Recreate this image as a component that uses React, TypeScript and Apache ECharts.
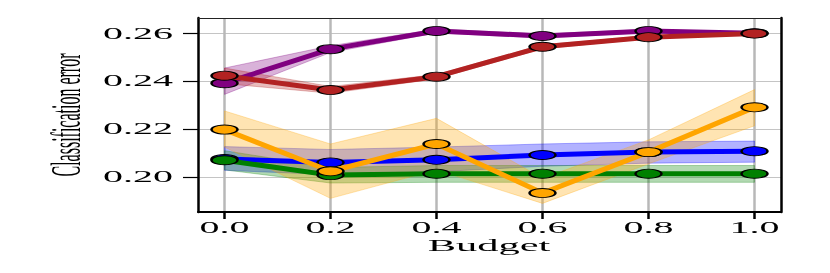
import React, { useEffect, useRef } from "react";
import * as echarts from "echarts";

const budgets = [0.0, 0.2, 0.4, 0.6, 0.8, 1.0];
const xTickLabels = ["0.0", "0.2", "0.4", "0.6", "0.8", "1.0"];
const yTicks = [0.2, 0.22, 0.24, 0.26];
const yTickLabels = ["0.20", "0.22", "0.24", "0.26"];
const xAxisTitle = "Budget";
const yAxisTitle = "Classification error";

const purpleMean = [0.2392, 0.2534, 0.261, 0.2589, 0.261, 0.26];
const purpleUpper = [0.2455, 0.2548, 0.2618, 0.2598, 0.2616, 0.2605];
const purpleLower = [0.2345, 0.252, 0.2602, 0.258, 0.2604, 0.2595];

const redMean = [0.2423, 0.2363, 0.2419, 0.2544, 0.2584, 0.2599];
const redUpper = [0.2455, 0.2378, 0.2428, 0.2552, 0.259, 0.2603];
const redLower = [0.239, 0.235, 0.241, 0.2536, 0.2578, 0.2595];

const blueMean = [0.2075, 0.2061, 0.2072, 0.2092, 0.2104, 0.2108];
const blueUpper = [0.2127, 0.2115, 0.2125, 0.2138, 0.2147, 0.215];
const blueLower = [0.2028, 0.201, 0.2022, 0.2045, 0.2058, 0.2062];

const greenMean = [0.207, 0.2008, 0.2014, 0.2014, 0.2014, 0.2014];
const greenUpper = [0.211, 0.204, 0.2048, 0.2048, 0.2048, 0.2048];
const greenLower = [0.203, 0.1975, 0.1978, 0.1978, 0.1978, 0.1978];

const orangeMean = [0.2198, 0.2024, 0.2138, 0.1933, 0.2104, 0.2291];
const orangeUpper = [0.2276, 0.2138, 0.2245, 0.1995, 0.2155, 0.2365];
const orangeLower = [0.2125, 0.1911, 0.203, 0.189, 0.2055, 0.2214];

const groups = [
  { name: "purple", mean: purpleMean, upper: purpleUpper, lower: purpleLower, color: "#800080", band: "rgba(128,0,128,0.3)" },
  { name: "red", mean: redMean, upper: redUpper, lower: redLower, color: "#b22222", band: "rgba(178,34,34,0.3)" },
  { name: "blue", mean: blueMean, upper: blueUpper, lower: blueLower, color: "#0000ff", band: "rgba(0,0,255,0.3)" },
  { name: "green", mean: greenMean, upper: greenUpper, lower: greenLower, color: "#008000", band: "rgba(0,128,0,0.3)" },
  { name: "orange", mean: orangeMean, upper: orangeUpper, lower: orangeLower, color: "#ffa500", band: "rgba(255,165,0,0.3)" },
];

const GRID = { left: 198, right: 49, top: 18, bottom: 61 };
const FONT = "'Liberation Serif', serif";
const STRETCH = 2.5;

export default function App() {
  const ref = useRef<HTMLDivElement>(null);
  useEffect(() => {
    if (!ref.current) return;
    const chart = echarts.init(ref.current, null, { renderer: "svg" });

    const bandSeries = groups.map((g) => ({
      type: "custom",
      name: g.name + "-band",
      silent: true,
      z: 1,
      data: budgets.map((b, i) => [b, g.lower[i], g.upper[i]]),
      encode: { x: 0, y: [1, 2] },
      renderItem: (params: any, api: any) => {
        if (params.dataIndex !== 0) return null;
        const top = budgets.map((b, i) => api.coord([b, g.upper[i]]));
        const bot = budgets.map((b, i) => api.coord([b, g.lower[i]])).reverse();
        return {
          type: "polygon",
          shape: { points: top.concat(bot) },
          style: { fill: g.band, stroke: g.band, lineWidth: 1 },
        };
      },
    }));

    const lineSeries = groups.map((g, k) => ({
      type: "line",
      name: g.name,
      z: 3 + k,
      data: budgets.map((b, i) => [b, g.mean[i]]),
      symbol: "circle",
      symbolSize: [26, 9],
      showAllSymbol: true,
      lineStyle: { color: g.color, width: 5 },
      itemStyle: { color: g.color, borderColor: "#000", borderWidth: 1.5 },
      silent: true,
    }));

    const option: any = {
      animation: false,
      grid: { ...GRID, containLabel: false },
      xAxis: [
        {
          type: "value",
          min: -0.05,
          max: 1.05,
          axisLine: { show: true, onZero: false, lineStyle: { color: "#000", width: 2 } },
          axisTick: { show: true, length: 7, customValues: budgets, lineStyle: { color: "#000", width: 2.5 } },
          axisLabel: { show: false, customValues: budgets },
          splitLine: { show: true, lineStyle: { color: "#b8b8b8", width: 2.5 } },
        },
        {
          type: "value",
          position: "top",
          min: -0.05,
          max: 1.05,
          axisLine: { show: true, onZero: false, lineStyle: { color: "#222", width: 1 } },
          axisTick: { show: false },
          axisLabel: { show: false },
          splitLine: { show: false },
        },
      ],
      yAxis: [
        {
          type: "value",
          min: 0.1854,
          max: 0.2664,
          axisLine: { show: true, onZero: false, lineStyle: { color: "#000", width: 2.5 } },
          axisTick: { show: true, length: 15, customValues: yTicks, lineStyle: { color: "#000", width: 1.2 } },
          axisLabel: { show: false, customValues: yTicks },
          splitLine: { show: true, lineStyle: { color: "#c4c4c4", width: 1 } },
        },
        {
          type: "value",
          position: "right",
          min: 0.1854,
          max: 0.2664,
          axisLine: { show: true, onZero: false, lineStyle: { color: "#000", width: 2.5 } },
          axisTick: { show: false },
          axisLabel: { show: false },
          splitLine: { show: false },
        },
      ],
      series: [...bandSeries, ...lineSeries],
    };
    chart.setOption(option);

    const thin = { stroke: "#fff", lineWidth: 0.35 };
    const graphics: any[] = [];
    budgets.forEach((b, i) => {
      const px = chart.convertToPixel({ xAxisIndex: 0 }, b) as number;
      graphics.push({
        type: "text",
        x: px,
        y: 228,
        scaleX: STRETCH,
        style: { text: xTickLabels[i], font: `16px ${FONT}`, fill: "#000", align: "center", verticalAlign: "middle", ...thin },
      });
    });
    yTicks.forEach((v, i) => {
      const py = chart.convertToPixel({ yAxisIndex: 0 }, v) as number;
      graphics.push({
        type: "text",
        x: GRID.left - 25,
        y: py,
        scaleX: STRETCH,
        style: { text: yTickLabels[i], font: `16px ${FONT}`, fill: "#000", align: "right", verticalAlign: "middle", ...thin },
      });
    });
    graphics.push({
      type: "text",
      x: 489,
      y: 245,
      scaleX: STRETCH,
      style: { text: xAxisTitle, font: `17px ${FONT}`, fill: "#000", align: "center", verticalAlign: "middle", ...thin },
    });
    graphics.push({
      type: "text",
      x: 66,
      y: 115,
      rotation: Math.PI / 2,
      scaleY: 2.6,
      style: { text: yAxisTitle, font: `16px ${FONT}`, fill: "#000", align: "center", verticalAlign: "middle" },
    });
    chart.setOption({ graphic: graphics });

    return () => chart.dispose();
  }, []);
  return <div ref={ref} style={{ position: "fixed", left: 0, top: 0, width: 830, height: 273 }} />;
}
